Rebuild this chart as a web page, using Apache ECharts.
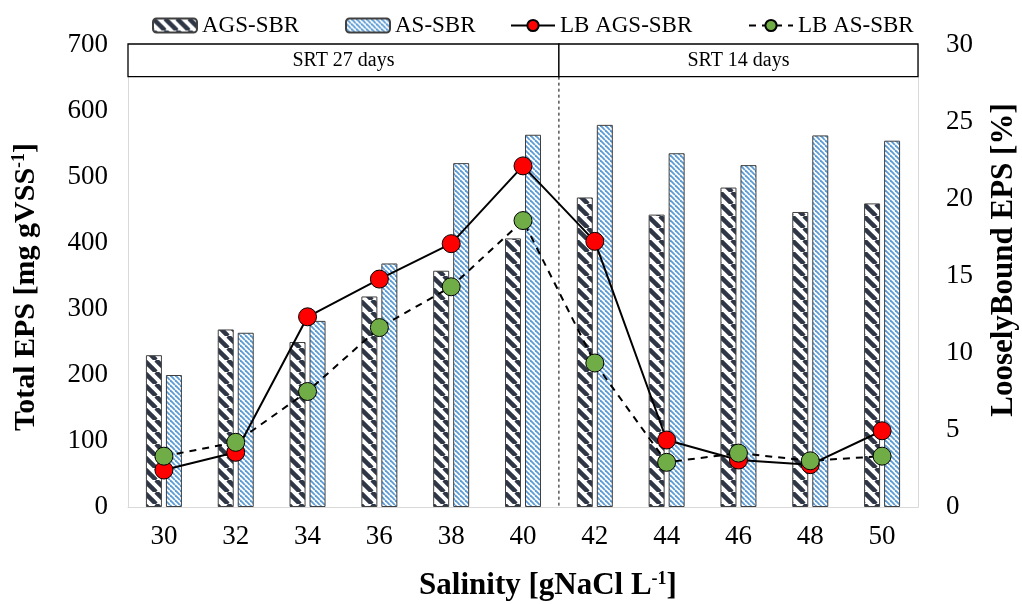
<!DOCTYPE html>
<html>
<head>
<meta charset="utf-8">
<script src="https://cdn.jsdelivr.net/npm/echarts@6/dist/echarts.min.js"></script>
<style>html,body{margin:0;padding:0;background:#fff;}#c{width:1022px;height:604px;}</style>
</head>
<body>
<div id="c"></div>
<script>
// ---- data ----
const categories = ['30','32','34','36','38','40','42','44','46','48','50'];
const agsTotal = [230, 269, 250, 319, 358, 407, 469, 443, 484, 447, 460];
const asTotal  = [200, 264, 282, 369, 521, 564, 579, 536, 518, 563, 555];
const lbAgs = [2.4, 3.55, 12.35, 14.8, 17.1, 22.15, 17.25, 4.35, 3.05, 2.75, 4.95];
const lbAs  = [3.3, 4.2, 7.5, 11.65, 14.3, 18.6, 9.35, 2.9, 3.5, 3.0, 3.3];
const leftTicks = [0, 700, 100];
const rightTicks = [0, 30, 5];
// header spans on the salinity scale (category band edges) and their labels
const headerSpans = [[29, 41], [41, 51]];
const headerLabels = ['SRT 27 days', 'SRT 14 days'];
const headerRange = [652, 700];
const dividerX = 41;
const legendNames = ['AGS-SBR', 'AS-SBR', 'LB AGS-SBR', 'LB AS-SBR'];

function stripe(size, bg, fg, lw) {
  const c = document.createElement('canvas');
  c.width = c.height = size;
  const ctx = c.getContext('2d');
  ctx.fillStyle = bg; ctx.fillRect(0, 0, size, size);
  ctx.strokeStyle = fg; ctx.lineWidth = lw;
  for (let k = -1; k <= 1; k++) {
    ctx.beginPath(); ctx.moveTo(k * size, 0); ctx.lineTo(k * size + size, size); ctx.stroke();
  }
  return c;
}
const agsPattern = { image: stripe(12, '#ffffff', '#2f3747', 4.5), repeat: 'repeat' };
const asPattern = { image: stripe(5, '#ffffff', '#5b9bd5', 1.8), repeat: 'repeat' };

const FONT = 'Liberation Serif';
const legendLeft = [147, 340, 505, 743];
const chart = echarts.init(document.getElementById('c'));
chart.setOption({
  animation: false,
  textStyle: { fontFamily: FONT },
  legend: legendNames.map((n, i) => ({
    top: 9, left: legendLeft[i], itemGap: 0, itemWidth: 44, itemHeight: 14,
    textStyle: { fontFamily: FONT, fontSize: 23, color: '#000' },
    data: [n]
  })),
  grid: { left: 128, right: 104, top: 45, bottom: 97, outerBoundsMode: 'none', containLabel: false },
  xAxis: [{
    type: 'category', data: categories,
    axisLine: { lineStyle: { color: '#d9d9d9', width: 1 } },
    axisTick: { show: false },
    axisLabel: { fontFamily: FONT, fontSize: 27, color: '#000', margin: 16 },
    name: '{b|Salinity [gNaCl L}{s|-1}{b|]}', nameLocation: 'middle', nameGap: 63,
    nameTextStyle: { padding: [0, 0, 0, 50], rich: {
      b: { fontFamily: FONT, fontSize: 31, fontWeight: 'bold', color: '#000' },
      s: { fontFamily: FONT, fontSize: 18, fontWeight: 'bold', color: '#000', padding: [0, 0, 14, 0] }
    } }
  }, {
    type: 'value', min: 29, max: 51, show: false
  }],
  yAxis: [{
    type: 'value', min: leftTicks[0], max: leftTicks[1], interval: leftTicks[2],
    axisLine: { show: true, lineStyle: { color: '#d9d9d9' } },
    axisTick: { show: false }, splitLine: { show: false },
    axisLabel: { fontFamily: FONT, fontSize: 27, color: '#000', margin: 20 },
    name: '{b|Total EPS [mg gVSS}{s|-1}{b|]}', nameLocation: 'middle', nameRotate: 90, nameGap: 86,
    nameTextStyle: { padding: [0, 22, 0, 0], rich: {
      b: { fontFamily: FONT, fontSize: 30, fontWeight: 'bold', color: '#000' },
      s: { fontFamily: FONT, fontSize: 18, fontWeight: 'bold', color: '#000', padding: [0, 0, 14, 0] }
    } }
  }, {
    type: 'value', min: rightTicks[0], max: rightTicks[1], interval: rightTicks[2],
    position: 'right',
    axisLine: { show: true, lineStyle: { color: '#d9d9d9' } },
    axisTick: { show: false }, splitLine: { show: false },
    axisLabel: { fontFamily: FONT, fontSize: 27, color: '#000', margin: 28 },
    name: 'LooselyBound EPS [%]', nameLocation: 'middle', nameRotate: 90, nameGap: 70,
    nameTextStyle: { fontFamily: FONT, fontSize: 31, fontWeight: 'bold', color: '#000', padding: [0, 0, 0, 32] }
  }],
  series: [{
    name: 'AGS-SBR', type: 'bar', data: agsTotal, barWidth: 16, barGap: '25%',
    itemStyle: { color: agsPattern, borderColor: '#404040', borderWidth: 1 }
  }, {
    name: 'AS-SBR', type: 'bar', data: asTotal, barWidth: 16,
    itemStyle: { color: asPattern, borderColor: '#404040', borderWidth: 1 }
  }, {
    name: 'LB AGS-SBR', type: 'line', yAxisIndex: 1, data: lbAgs,
    symbol: 'circle', symbolSize: 18,
    lineStyle: { color: '#000', width: 2 },
    itemStyle: { color: '#ff0000', borderColor: '#000', borderWidth: 1 }, z: 5
  }, {
    name: 'LB AS-SBR', type: 'line', yAxisIndex: 1, data: lbAs,
    symbol: 'circle', symbolSize: 18,
    lineStyle: { color: '#000', width: 2, type: [7, 6] },
    itemStyle: { color: '#70ad47', borderColor: '#000', borderWidth: 1 }, z: 6
  }, {
    type: 'custom', xAxisIndex: 1, yAxisIndex: 0, silent: true, z: 10,
    data: headerSpans.map((s, i) => [s[0], s[1], i]),
    renderItem: function (params, api) {
      const x0 = api.value(0), x1 = api.value(1), idx = api.value(2);
      const p0 = api.coord([x0, headerRange[1]]);
      const p1 = api.coord([x1, headerRange[0]]);
      return {
        type: 'group', children: [{
          type: 'rect',
          shape: { x: p0[0], y: p0[1] - 1, width: p1[0] - p0[0], height: p1[1] - p0[1] + 1 },
          style: { fill: '#fff', stroke: '#000', lineWidth: 1.3 }
        }, {
          type: 'text',
          style: { x: (p0[0] + p1[0]) / 2, y: (p0[1] + p1[1]) / 2, text: headerLabels[idx],
            align: 'center', verticalAlign: 'middle', font: '20px "Liberation Serif"', fill: '#000' }
        }]
      };
    }
  }, {
    type: 'custom', xAxisIndex: 1, yAxisIndex: 0, silent: true, z: 4,
    data: [[dividerX]],
    renderItem: function (params, api) {
      const a = api.coord([api.value(0), headerRange[0]]);
      const b = api.coord([api.value(0), 0]);
      return { type: 'line', shape: { x1: a[0], y1: a[1], x2: b[0], y2: b[1] },
        style: { stroke: '#000', lineWidth: 1, lineDash: [3, 3] } };
    }
  }]
});
</script>
</body>
</html>
